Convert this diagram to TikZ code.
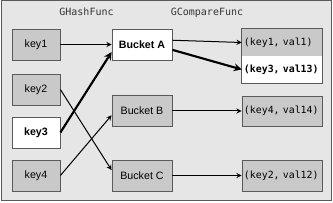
\documentclass[tikz,border=0pt]{standalone}
\usepackage{fontspec}
\setmainfont{Liberation Sans}
\newfontfamily\codefont{DejaVu Sans Mono}
\usetikzlibrary{arrows, positioning}
\definecolor{panelgray}{HTML}{E6E6E6}
\definecolor{boxgray}{HTML}{C9C9C9}
\definecolor{edgegray}{HTML}{5A5A5A}
\tikzset{
	keybox/.style={draw=edgegray, line width=0.6pt, fill=boxgray, minimum width=36pt, minimum height=23.25pt, inner sep=0pt, font=\fontsize{8}{9}\selectfont},
	bucketbox/.style={keybox, minimum width=45pt},
	valbox/.style={fill=boxgray, minimum width=60pt, minimum height=22.5pt, inner sep=0pt, text width=60pt, align=left, font=\fontsize{7.4}{9}\codefont},
	fnlabel/.style={font=\fontsize{7.5}{9}\codefont\color{black!80}},
	hasharrow/.style={->, line width=0.75pt}
}
\newcommand{\pairtext}[1]{\hspace*{1.5pt}#1}

\begin{document}
\begin{tikzpicture}[x=0.75pt, y=-0.75pt, >=stealth]
      \useasboundingbox (0,0) rectangle (333,203);
      \draw[edgegray, line width=0.75pt, fill=panelgray] (1,1) rectangle (331,201);
      % function labels
      \node[fnlabel] (hashlbl) at (86.5,12) {GHashFunc};
      \node[fnlabel] (cmplbl) at (207,13) {GCompareFunc};
      % keys
      \node[keybox] (k1) at (36,44.5) {key1};
      \node[keybox] (k2) at (36,89.5) {key2};
      \node[keybox, fill=white] (k3) at (36,132.5) {\bfseries key3};
      \node[keybox] (k4) at (36,175.5) {key4};
      % buckets
      \node[bucketbox, fill=white] (bA) at (142,44.5) {\bfseries Bucket A};
      \node[bucketbox] (bB) at (142,111) {Bucket B};
      \node[bucketbox] (bC) at (142,175.5) {Bucket C};
      % key/value pairs
      \node[valbox, minimum height=20.25pt] (v1) at (282,42.5) {\pairtext{(key1, val1)}};
      \node[valbox, fill=white, minimum height=20.25pt] (v3) at (282,69.5) {\pairtext{\bfseries (key3, val13)}};
      \node[valbox, draw=edgegray, line width=0.6pt] (v4) at (282,111) {\pairtext{(key4, val14)}};
      \node[valbox, draw=edgegray, line width=0.6pt, minimum height=23.25pt] (v2) at (282,175.5) {\pairtext{(key2, val12)}};
      \draw[edgegray, line width=0.6pt] (v1.north west) rectangle (v3.south east);
      % hashing
      \draw[hasharrow] (k1.east) -- (bA.west);
      \draw[hasharrow] (k2.east) -- (bC.170);
      \draw[hasharrow, line width=1.6pt] (k3.east) -- (bA.194);
      \draw[hasharrow] (k4.east) -- (bB.188);
      % comparing
      \draw[hasharrow] (bA.8) -- (v1.west);
      \draw[hasharrow, line width=1.6pt] (bA.-10) -- (v3.west);
      \draw[hasharrow] (bB.east) -- (v4.west);
      \draw[hasharrow] (bC.east) -- (v2.west);
    \end{tikzpicture}
\end{document}
